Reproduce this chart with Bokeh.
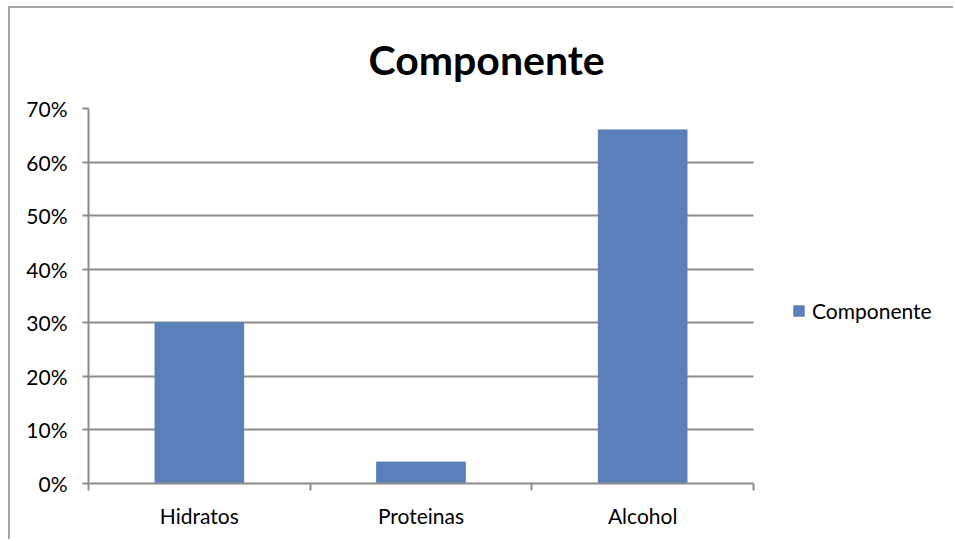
from bokeh.plotting import figure
from bokeh.models import (FixedTicker, NumeralTickFormatter, Legend, LegendItem,
                          Range1d, Title, ColumnDataSource)
from bokeh.embed import file_html
from bokeh.resources import INLINE

categories = ["Hidratos", "Proteinas", "Alcohol"]
values = [0.30, 0.04, 0.66]
series_name = "Componente"
y_ticks = [0.0, 0.1, 0.2, 0.3, 0.4, 0.5, 0.6, 0.7]

FONT = "Lato"
GRAY = "#8c8c8c"
BAR = "#5b80b9"

n = len(categories)
xs = [i + 0.5 for i in range(n)]
src = ColumnDataSource(dict(x=xs, top=values, cat=categories))

# frame spans the legend area too; the category part takes 665 of 867 px
x_end = n * 867 / 665

p = figure(width=945, height=533, output_backend="svg", toolbar_location=None,
           x_range=Range1d(0, x_end), y_range=Range1d(0, 0.7),
           min_border_left=78, min_border_right=0, min_border_top=100,
           min_border_bottom=58, outline_line_color=None,
           margin=(6, 0, 0, 8))
p.styles = {"border-left": "2px solid #a6a6a6", "border-top": "2px solid #a6a6a6"}

r = p.vbar(x="x", top="top", width=0.4, source=src, fill_color=BAR, line_color=BAR)

p.title = Title(text="Componente", align="left", vertical_align="middle", text_font=FONT,
                text_font_size="41px", text_font_style="bold", text_color="black",
                offset=280, standoff=48)

# x axis
p.xaxis.bounds = (0, n)
p.xaxis.ticker = FixedTicker(ticks=xs, minor_ticks=list(range(n + 1)))
p.xaxis.major_label_overrides = {x: c for x, c in zip(xs, categories)}
p.xaxis.major_tick_line_color = None
p.xaxis.minor_tick_line_color = GRAY
p.xaxis.minor_tick_line_width = 2
p.xaxis.minor_tick_out = 7
p.xaxis.minor_tick_in = 0
p.xaxis.axis_line_color = GRAY
p.xaxis.axis_line_width = 2
p.xaxis.major_label_text_font = FONT
p.xaxis.major_label_text_font_size = "21px"
p.xaxis.major_label_text_color = "black"
p.xaxis.major_label_standoff = 12

# y axis
p.yaxis.ticker = FixedTicker(ticks=y_ticks)
p.yaxis.formatter = NumeralTickFormatter(format="0%")
p.yaxis.major_tick_line_color = GRAY
p.yaxis.major_tick_line_width = 2
p.yaxis.major_tick_out = 6
p.yaxis.major_tick_in = 0
p.yaxis.minor_tick_line_color = None
p.yaxis.axis_line_color = GRAY
p.yaxis.axis_line_width = 2
p.yaxis.major_label_text_font = FONT
p.yaxis.major_label_text_font_size = "21px"
p.yaxis.major_label_text_color = "black"
p.yaxis.major_label_standoff = 15

p.xgrid.grid_line_color = None
p.ygrid.ticker = FixedTicker(ticks=y_ticks)
p.ygrid.cross_bounds = (0, n)
p.ygrid.grid_line_color = GRAY
p.ygrid.grid_line_width = 2

legend = Legend(items=[LegendItem(label=series_name, renderers=[r])],
                location=(704, 160), border_line_alpha=0, background_fill_alpha=0,
                margin=0, padding=0, glyph_width=13, glyph_height=13,
                label_standoff=7, label_text_font=FONT, label_text_font_size="21px",
                label_text_color="black")
p.add_layout(legend, "center")

open("out.html", "w").write(file_html(p, INLINE))
